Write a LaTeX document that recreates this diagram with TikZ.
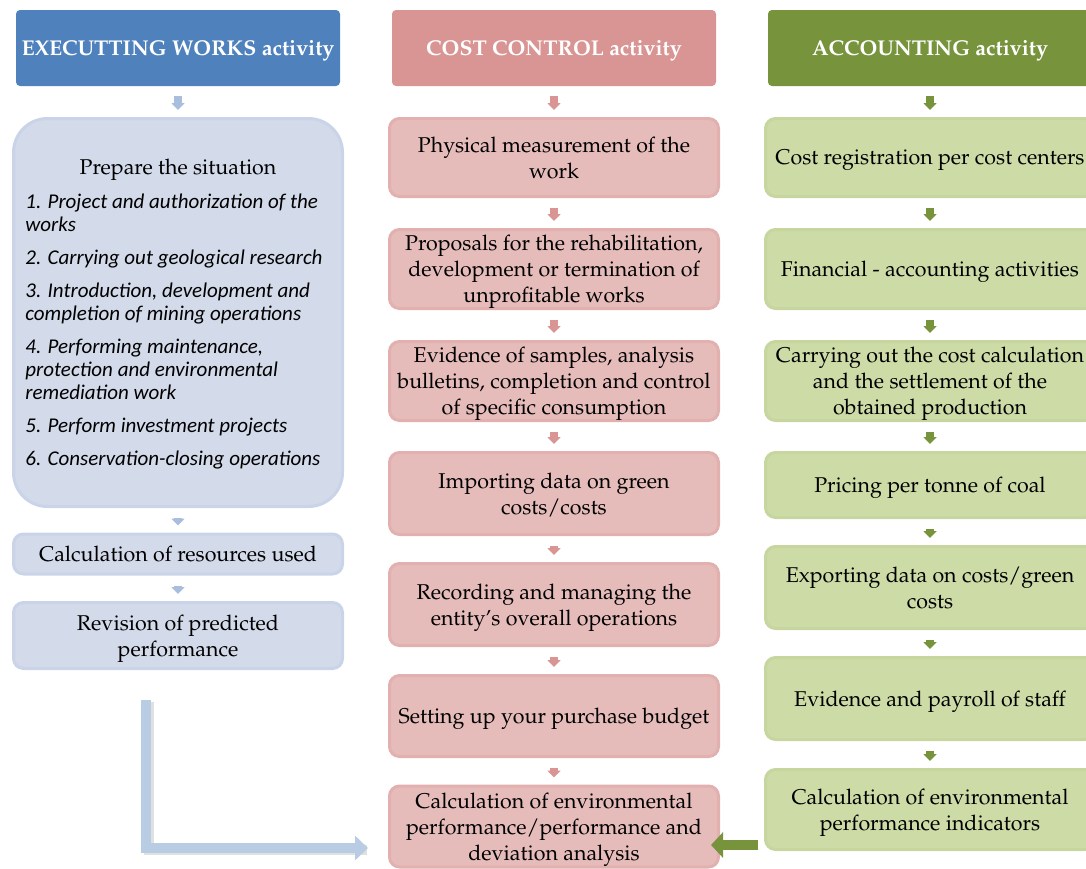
\documentclass[tikz,border=0pt]{standalone}
\usepackage{fontspec}
\usepackage[T1]{fontenc}
\usepackage{mathpazo}
\newfontfamily\listfont{Carlito}
\usetikzlibrary{arrows.meta}

\definecolor{workhead}{HTML}{4F81BD}
\definecolor{workfill}{HTML}{D3DAEA}
\definecolor{workline}{HTML}{C9D4E9}
\definecolor{workarrow}{HTML}{A9BDDC}
\definecolor{costhead}{HTML}{D99594}
\definecolor{costfill}{HTML}{E6BCBB}
\definecolor{costline}{HTML}{E2B0AF}
\definecolor{acchead}{HTML}{77933C}
\definecolor{accfill}{HTML}{CDDBA7}
\definecolor{accline}{HTML}{C6D69E}
\definecolor{lblue}{HTML}{B8CCE4}

\tikzset{
  head/.style={rounded corners=2pt, minimum width=162pt, minimum height=38pt,
    text depth=0pt, text=white, font=\bfseries\fontsize{10.7}{13}\selectfont, inner sep=2pt},
  box/.style={rounded corners=5pt, line width=1.5pt, minimum width=164.5pt,
    align=center, inner sep=2pt, text depth=0pt, font=\fontsize{10.7}{13}\selectfont},
  workbox/.style={box, fill=workfill, draw=workline},
  costbox/.style={box, fill=costfill, draw=costline},
  accbox/.style={box, fill=accfill, draw=accline},
  down/.style={line width=4pt, -{Triangle[width=6.5pt,length=3.5pt]},
    shorten <=5pt, shorten >=3.5pt},
}

\begin{document}
\begin{tikzpicture}[x=0.5pt,y=-0.5pt]
\clip (0,0) rectangle (1086,868);

% column headers
\node[head, fill=workhead] (work) at (178,48) {EXECUTTING WORKS activity};
\node[head, fill=costhead] (cost) at (554,48) {COST CONTROL activity};
\node[head, fill=acchead] (acc) at (930,48) {ACCOUNTING activity};

% executing works
\node[workbox, rounded corners=17pt, minimum height=194pt] (prep) at (178,312.5) {};
\node[font=\fontsize{10.7}{13}\selectfont] (preptitle) at (178,170) {Prepare the situation};
\node[anchor=north west, inner sep=0pt, align=left,
  font=\listfont\itshape\fontsize{10.5}{11.5}\selectfont] (preplist) at (25,194)
  {1. Project and authorization of the\\works\\[5pt]
   2. Carrying out geological research\\[5pt]
   3. Introduction, development and\\completion of mining operations\\[5pt]
   4. Performing maintenance,\\protection and environmental\\remediation work\\[5pt]
   5. Perform investment projects\\[5pt]
   6. Conservation-closing operations};
\node[workbox, minimum height=20pt] (res) at (178,554) {Calculation of resources used};
\node[workbox, minimum height=33pt] (rev) at (178,635.5) {Revision of predicted\\performance};

% cost control
\node[costbox, minimum height=39pt] (cost1) at (554,157.5) {Physical measurement of the\\work};
\node[costbox, minimum height=39.5pt] (cost2) at (554,269) {Proposals for the rehabilitation,\\development or termination of\\unprofitable works};
\node[costbox, minimum height=39.5pt] (cost3) at (554,381) {Evidence of samples, analysis\\bulletins, completion and control\\of specific consumption};
\node[costbox, minimum height=41pt] (cost4) at (554,493.5) {Importing data on green\\costs/costs};
\node[costbox, minimum height=41pt] (cost5) at (554,604.5) {Recording and managing the\\entity's overall operations};
\node[costbox, minimum height=40.5pt] (cost6) at (554,716) {Setting up your purchase budget};
\node[costbox, minimum height=40.5pt] (cost7) at (554,826.5) {Calculation of environmental\\performance/performance and\\deviation analysis};

% accounting
\node[accbox, minimum height=39pt] (acc1) at (930,157.5) {Cost registration per cost centers};
\node[accbox, minimum height=39.5pt] (acc2) at (930,269) {Financial - accounting activities};
\node[accbox, minimum height=39.5pt] (acc3) at (930,381) {Carrying out the cost calculation\\and the settlement of the\\obtained production};
\node[accbox, minimum height=32.5pt] (acc4) at (930,485) {Pricing per tonne of coal};
\node[accbox, minimum height=41pt] (acc5) at (930,587.5) {Exporting data on costs/green\\costs};
\node[accbox, minimum height=41pt] (acc6) at (930,698.5) {Evidence and payroll of staff};
\node[accbox, minimum height=40pt] (acc7) at (930,809.5) {Calculation of environmental\\performance indicators};

% small arrows down each column
\foreach \a/\b in {work/prep, prep/res, res/rev}
  \draw[down, workarrow] (\a) -- (\b);
\foreach \a/\b in {cost/cost1, cost1/cost2, cost2/cost3, cost3/cost4, cost4/cost5, cost5/cost6, cost6/cost7}
  \draw[down, costhead] (\a) -- (\b);
\foreach \a/\b in {acc/acc1, acc1/acc2, acc2/acc3, acc3/acc4, acc4/acc5, acc5/acc6, acc6/acc7}
  \draw[down, acchead] (\a) -- (\b);

% bent arrow into the last cost box
\coordinate (lstart) at (146,700);
\coordinate (lend) at ([yshift=-10.75pt]cost7.west);
\draw[gray!40, line width=5pt, opacity=0.6, transform canvas={xshift=1.5pt,yshift=-1pt}]
  (lstart) |- ([xshift=-12pt]lend);
\draw[lblue, line width=5pt, -{Triangle[width=12pt,length=6.5pt]}, shorten >=10pt]
  (lstart) |- (lend);

% accounting feeds back into cost control
\coordinate (gtail) at ([yshift=-17.75pt]acc7.west);
\draw[acchead, line width=5pt, -{Triangle[width=12.5pt,length=6pt]},
  shorten <=3pt, shorten >=-4.5pt] (gtail) -- (gtail -| cost7.east);
\end{tikzpicture}
\end{document}
